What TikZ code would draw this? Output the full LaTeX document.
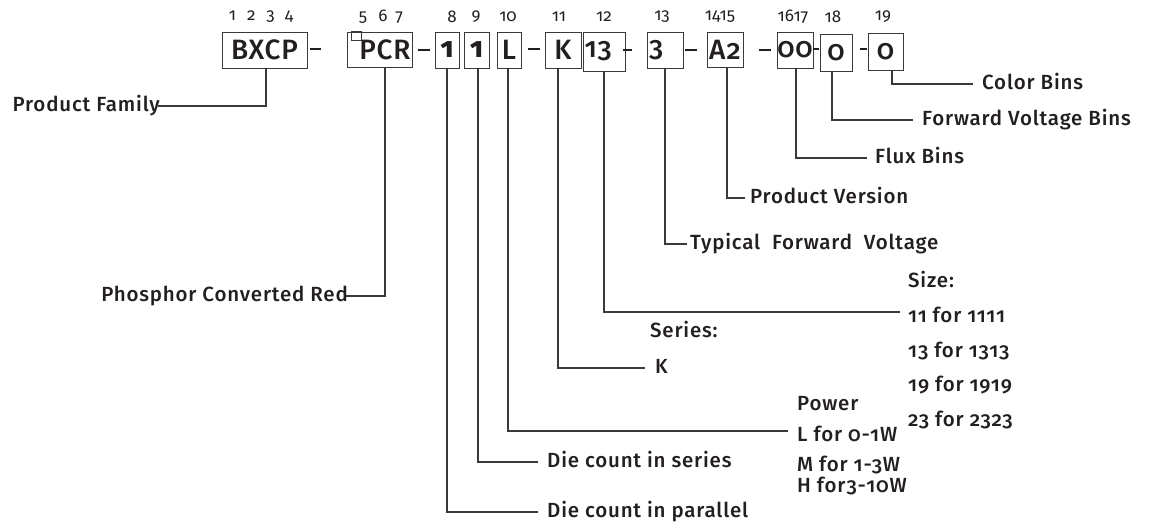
\documentclass[tikz,border=0pt]{standalone}
\usepackage{fontspec}
\setmainfont{Fira Sans}[Numbers=OldStyle]
\newfontfamily\medfont{Fira Sans Medium}[Numbers=OldStyle, LetterSpace=4]
\newfontfamily\boxfont{Fira Sans Medium}[Numbers=OldStyle, LetterSpace=3]
\usetikzlibrary{calc}
\definecolor{ink}{HTML}{231F20}
\definecolor{wire}{HTML}{3A3A3A}
\tikzset{
  digit/.style={draw=wire, line width=0.9pt, inner sep=0pt, minimum height=36pt,
    font=\boxfont\fontsize{28}{28}\selectfont, text=ink},
  slot/.style={font=\fontsize{17}{17}\selectfont, text=ink, inner sep=0pt},
  lbl/.style={font=\medfont\fontsize{20.5}{22}\selectfont, text=ink, inner sep=0pt,
    text height=14pt, text depth=4pt},
  lead/.style={draw=wire, line width=1.2pt},
  dashbar/.style={draw=ink, line width=2.2pt},
}

\begin{document}
\begin{tikzpicture}[x=1pt,y=-1pt]
        \useasboundingbox (0,0) rectangle (1149,525);

        % code boxes
        \node[digit, minimum width=85pt] (bxcp) at (264.5,50) {BXCP};
        \node[digit, minimum width=65pt, minimum height=35pt, text width=62pt, align=right] (pcr) at (379.5,49.5) {PCR};
        \draw[draw=wire, line width=0.7pt] ([xshift=5pt]pcr.north west) rectangle ++(10,9);
        \node[digit, minimum width=24pt] (dpar) at (447,50) {\bfseries 1};
        \node[digit, minimum width=25pt] (dser) at (476.5,50) {\bfseries 1};
        \node[digit, minimum width=24pt] (pw) at (509,50) {L};
        \node[digit, minimum width=36pt] (ser) at (563,50) {K};
        \node[digit, minimum width=42pt, minimum height=39pt, text width=39pt, align=left] (size) at (604,51.5) {13};
        \node[digit, minimum width=36pt, text width=32pt, align=left] (vf) at (665,50) {3};
        \node[digit, minimum width=36pt, minimum height=35pt] (ver) at (725,49.5) {A2};
        \node[digit, minimum width=36pt] (flux) at (795,50) {00};
        \node[digit, minimum width=32pt, minimum height=37pt] (vfb) at (836,52.5) {0};
        \node[digit, minimum width=35pt, minimum height=37pt] (col) at (885.5,51.5) {0};

        % dashes between boxes
        \draw[dashbar] (310,49) -- (321,49);
        \draw[dashbar] (418,50) -- (430,50);
        \draw[dashbar] (528,49) -- (540,49);
        \draw[dashbar] (623,50) -- (632,50);
        \draw[dashbar] (685,50) -- (697,50);
        \draw[dashbar] (759,50) -- (771,50);
        \draw[dashbar] (813,49) -- (819,49);
        \draw[dashbar] (860,49) -- (867,49);

        % character positions
        \node[slot] (p1) at (261,17) {1\hspace{11pt}2\hspace{11pt}3\hspace{10pt}4};
        \node[slot] (p5) at (381,17) {5\hspace{11pt}6\hspace{8pt}7};
        \node[slot] (p8) at (452,17) {8};
        \node[slot] (p9) at (476,17) {9};
        \node[slot] (p10) at (508,17) {10};
        \node[slot] (p11) at (559,17) {11};
        \node[slot] (p12) at (604,17) {12};
        \node[slot] (p13) at (662,17) {13};
        \node[slot] (p14) at (720,17) {1415};
        \node[slot] (p16) at (793,17) {1617};
        \node[slot] (p18) at (833,17) {18};
        \node[slot] (p19) at (883,17) {19};

        % labels
        \node[lbl, anchor=east] (fam) at (160,106) {Product Family};
        \node[lbl, anchor=east] (red) at (348,296) {Phosphor Converted Red};
        \node[lbl, anchor=west] (par) at (547,512) {Die count in parallel};
        \node[lbl, anchor=west] (sers) at (547,462) {Die count in series};
        \node[lbl, anchor=west] (pwt) at (797,405) {Power};
        \node[lbl, anchor=west] (pwl) at (797,436) {L for 0-1W};
        \node[lbl, anchor=west] (pwm) at (797,466) {M for 1-3W};
        \node[lbl, anchor=west] (pwh) at (797,487) {H for3-10W};
        \node[lbl, anchor=west] (sert) at (650,332) {Series:};
        \node[lbl, anchor=west] (serk) at (655,368) {K};
        \node[lbl, anchor=west] (szt) at (908,282) {Size:};
        \node[lbl, anchor=west] (sz11) at (908,317) {11 for 1111};
        \node[lbl, anchor=west] (sz13) at (908,352) {13 for 1313};
        \node[lbl, anchor=west] (sz19) at (908,386) {19 for 1919};
        \node[lbl, anchor=west] (sz23) at (908,421) {23 for 2323};
        \node[lbl, anchor=west] (vft) at (690,244) {Typical\ \ Forward\ \ Voltage};
        \node[lbl, anchor=west] (vert) at (750,198) {Product Version};
        \node[lbl, anchor=west] (fluxt) at (875,158) {Flux Bins};
        \node[lbl, anchor=west] (vfbt) at (922,120) {Forward Voltage Bins};
        \node[lbl, anchor=west] (colt) at (982,84) {Color Bins};

        % leader lines
        \draw[lead] ([xshift=1.5pt]bxcp.south) |- ([xshift=-2pt]fam.east);
        \draw[lead] ([xshift=5.5pt]pcr.south) |- ([xshift=-2pt]red.east);
        \draw[lead] (dpar.south) |- ([xshift=-9pt]par.west);
        \draw[lead] ([xshift=1.5pt]dser.south) |- ([xshift=-9pt]sers.west);
        \draw[lead] ([xshift=-1pt]pw.south) |- ([xshift=-9pt,yshift=5pt]pwl.west);
        \draw[lead] ([xshift=-5pt]ser.south) |- ([xshift=-10pt]serk.west);
        \draw[lead] (size.south) |- ([xshift=-8pt,yshift=5pt]sz11.west);
        \draw[lead] (vf.south) |- ([xshift=-3pt]vft.west);
        \draw[lead] ([xshift=2pt]ver.south) |- ([xshift=-5pt]vert.west);
        \draw[lead] ([xshift=1pt]flux.south) |- ([xshift=-8pt]fluxt.west);
        \draw[lead] ([xshift=-4pt]vfb.south) |- ([xshift=-9pt]vfbt.west);
        \draw[lead] ([xshift=6.5pt]col.south) |- ([xshift=-9pt]colt.west);
\end{tikzpicture}
\end{document}
